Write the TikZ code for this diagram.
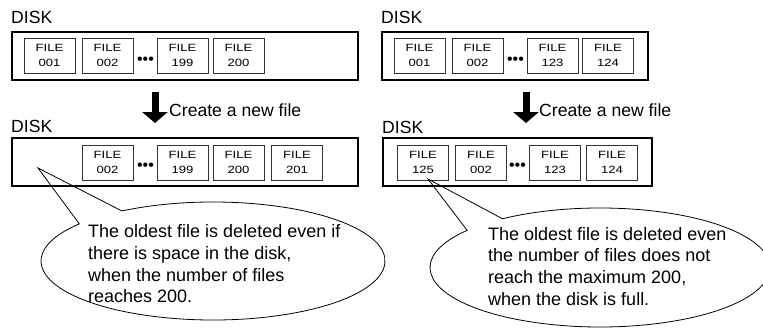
\documentclass[tikz,border=0pt]{standalone}
\usepackage{fontspec}
\setmainfont{Liberation Sans}
\newfontfamily\filefont[FakeStretch=1.25]{Liberation Sans}
\usetikzlibrary{arrows.meta,calc}
\begin{document}
\begin{tikzpicture}[x=1pt,y=1pt,
  disk/.style={draw=black,line width=1.4pt,inner sep=0pt,minimum height=48pt},
  filebox/.style={draw=black!80,line width=0.9pt,minimum width=51pt,minimum height=35pt,
    inner sep=0pt,align=center,font=\filefont\fontsize{10.5}{15}\selectfont},
  lbl/.style={anchor=base west,inner sep=0pt,font=\fontsize{17.6}{21.7}\selectfont},
  dots/.style={inner sep=0pt,font=\fontsize{16}{16}\selectfont},
  bigarrow/.style={line width=7pt,-{Triangle[width=25pt,length=11pt]}},
  bubble/.style={draw=black,line width=0.8pt},
  bubbletext/.style={anchor=north west,inner sep=0pt,align=left,font=\fontsize{18}{21.7}\selectfont}]
\useasboundingbox (0,0) rectangle (763,-329);

% ---------- left panel ----------
\node[lbl] (disk1) at (11,-24) {DISK};
\node[disk,minimum width=346pt] (d1) at (185,-56) {};
\node[filebox] (f1a) at (49.5,-55.5) {FILE\\001};
\node[filebox] (f1b) at (107.5,-55.5) {FILE\\002};
\node[dots] (p1) at (145.5,-61) {•••};
\node[filebox] (f1c) at (182.5,-55.5) {FILE\\199};
\node[filebox] (f1d) at (238.5,-55.5) {FILE\\200};

\coordinate (a1s) at (155,-92);
\coordinate (a1e) at (155,-123);
\draw[bigarrow] (a1s) -- (a1e);
\node[lbl] (c1) at (169,-116.5) {Create a new file};

\node[lbl] (disk2) at (11,-132) {DISK};
\node[disk,minimum width=346pt] (d2) at (185,-162) {};
\node[filebox] (f2a) at (107.5,-162.5) {FILE\\002};
\node[dots] (p2) at (145.5,-167) {•••};
\node[filebox] (f2b) at (182.5,-162.5) {FILE\\199};
\node[filebox] (f2c) at (238.5,-162.5) {FILE\\200};
\node[filebox] (f2d) at (297,-162.5) {FILE\\201};

\coordinate (e1) at (213,-261);
\coordinate (t1) at (38,-168);
\draw[bubble] ($(e1)+(141:172 and 59)$) -- (t1) -- ($(e1)+(122:172 and 59)$)
  arc[start angle=122,end angle=-219,x radius=172,y radius=59] -- cycle;
\node[bubbletext] (b1) at (88,-224.5) {The oldest file is deleted even if\\there is space in the disk,\\when the number of files\\reaches 200.};

% ---------- right panel ----------
\node[lbl] (disk3) at (381,-24) {DISK};
\node[disk,minimum width=266pt] (d3) at (515,-56) {};
\node[filebox] (f3a) at (419.5,-55.5) {FILE\\001};
\node[filebox] (f3b) at (477.5,-55.5) {FILE\\002};
\node[dots] (p3) at (515.5,-61) {•••};
\node[filebox] (f3c) at (552.5,-55.5) {FILE\\123};
\node[filebox] (f3d) at (608,-55.5) {FILE\\124};

\coordinate (a2s) at (526,-92);
\coordinate (a2e) at (526,-123);
\draw[bigarrow] (a2s) -- (a2e);
\node[lbl] (c2) at (539,-116) {Create a new file};

\node[lbl] (disk4) at (382,-133) {DISK};
\node[disk,minimum width=269pt] (d4) at (517.5,-162) {};
\node[filebox] (f4a) at (423,-162.5) {FILE\\125};
\node[filebox] (f4b) at (481,-162.5) {FILE\\002};
\node[dots] (p4) at (517.5,-167) {•••};
\node[filebox] (f4c) at (555,-162.5) {FILE\\123};
\node[filebox] (f4d) at (612,-162.5) {FILE\\124};

\coordinate (e2) at (600,-267.5);
\coordinate (t2) at (428,-179);
\draw[bubble] ($(e2)+(141.4:170 and 59.5)$) -- (t2) -- ($(e2)+(125:170 and 59.5)$)
  arc[start angle=125,end angle=-218.6,x radius=170,y radius=59.5] -- cycle;
\node[bubbletext] (b2) at (488,-227) {The oldest file is deleted even\\the number of files does not\\reach the maximum 200,\\when the disk is full.};
\end{tikzpicture}
\end{document}
